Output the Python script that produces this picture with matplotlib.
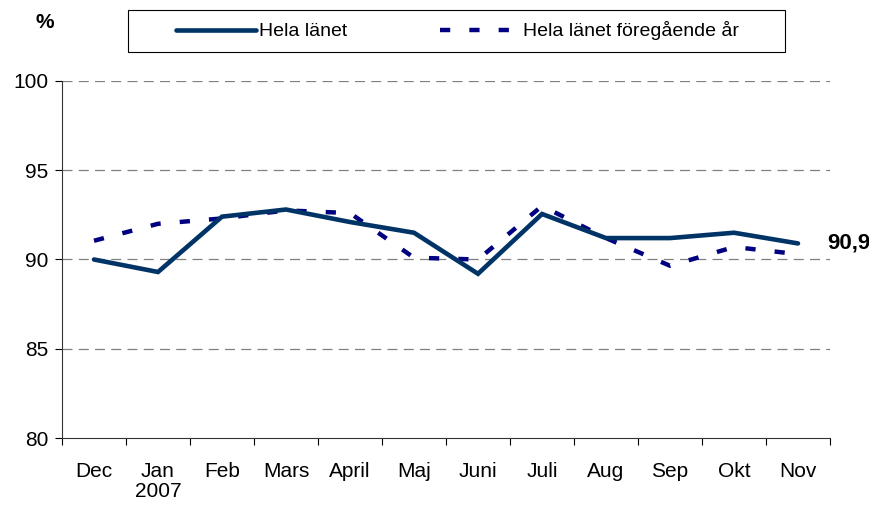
import matplotlib.pyplot as plt
from matplotlib.patches import Rectangle

plt.rcParams['font.family'] = ['Liberation Sans', 'DejaVu Sans']

months = ['Dec', 'Jan\n2007', 'Feb', 'Mars', 'April', 'Maj', 'Juni', 'Juli', 'Aug', 'Sep', 'Okt', 'Nov']
hela = [90.0, 89.3, 92.4, 92.8, 92.1, 91.5, 89.2, 92.55, 91.2, 91.2, 91.5, 90.9]
hela_prev = [91.05, 92.0, 92.3, 92.75, 92.6, 90.1, 90.0, 93.0, 91.2, 89.65, 90.7, 90.3]
last_label = '90,9'

fig = plt.figure(figsize=(8.69, 5.05), dpi=100)
ax = fig.add_axes([62/869, 1 - 438/505, (830 - 62)/869, (438 - 81)/505])

x = list(range(len(months)))
ax.plot(x, hela, color='#003366', lw=3.3, solid_capstyle='round', solid_joinstyle='miter',
        label='Hela länet', zorder=3)
ax.plot(x, hela_prev, color='#000080', lw=3.2, dashes=(2.3, 4.3),
        label='Hela länet föregående år', zorder=2)

ax.set_xlim(-0.5, len(months) - 0.5)
ax.set_ylim(80, 100)
ax.set_yticks([80, 85, 90, 95, 100])
ax.set_yticklabels(['80', '85', '90', '95', '100'], fontsize=15)
for y in [85, 90, 95, 100]:
    ax.axhline(y, color='#808080', lw=0.9, dashes=(8, 5), zorder=1)

ax.set_xticks([i - 0.5 for i in range(len(months) + 1)])
ax.set_xticklabels([])
ax.set_xticks(x, minor=True)
ax.set_xticklabels(months, minor=True, fontsize=15, va='top')
ax.tick_params(axis='x', which='minor', length=0, pad=17)
ax.tick_params(axis='x', which='major', length=5, direction='out')
ax.tick_params(axis='y', length=5, direction='out', pad=5)
for lab in ax.get_xticklabels(minor=True):
    lab.set_linespacing(1.1)

ax.spines['top'].set_visible(False)
ax.spines['right'].set_visible(False)
ax.spines['left'].set_color('#333333')
ax.spines['bottom'].set_color('#333333')

ax.text(len(months) - 1 + 0.45, hela[-1], last_label, fontsize=16, fontweight='bold',
        va='center', ha='left', clip_on=False)
fig.text(45/869, 1 - 22/505, '%', fontsize=15, fontweight='bold', ha='center', va='center')

# legend box drawn separately so it can be wider than the entries
fig.patches.append(Rectangle((128/869, 1 - 52/505), (785 - 128)/869, 42/505,
                             transform=fig.transFigure, fill=False,
                             edgecolor='#000000', lw=0.8))
leg = fig.legend(loc='center', bbox_to_anchor=((128 + 785)/2/869 + 1/869, 1 - 31/505), ncol=2,
                 fontsize=14, frameon=False,
                 handlelength=4.1, handletextpad=0.15, columnspacing=4.8,
                 borderpad=0.55, borderaxespad=0)

fig.savefig('out.png', dpi=100)
